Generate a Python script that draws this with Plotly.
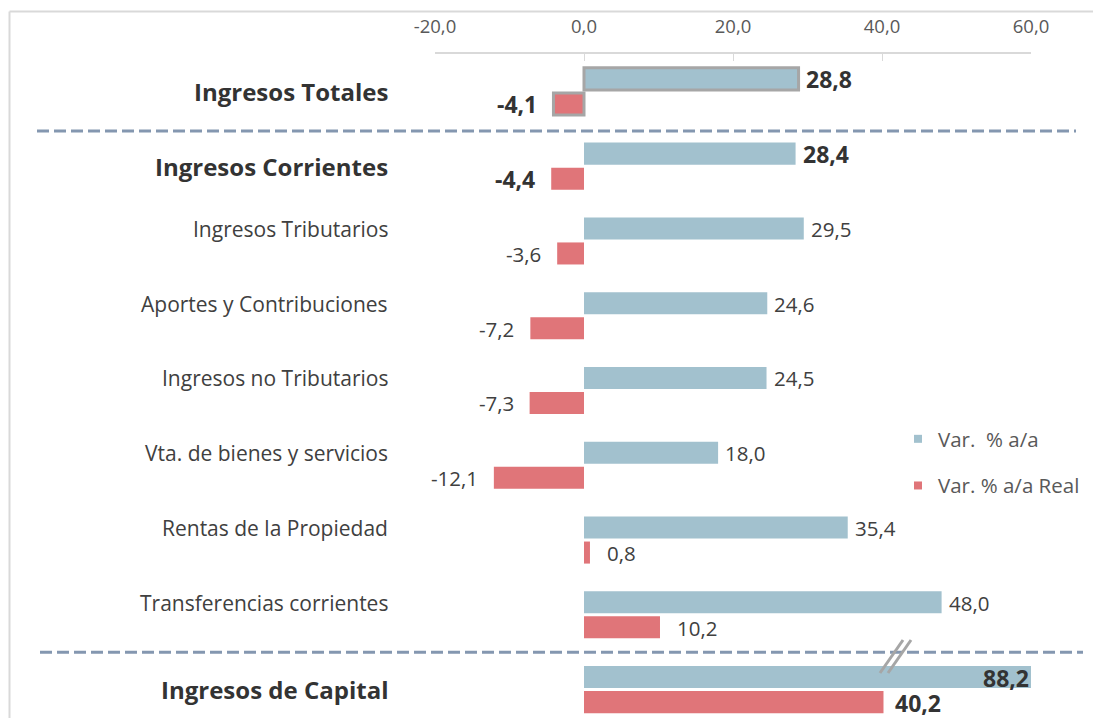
import plotly.graph_objects as go

categories = ["Ingresos Totales", "Ingresos Corrientes", "Ingresos Tributarios",
              "Aportes y Contribuciones", "Ingresos no Tributarios",
              "Vta. de bienes y servicios", "Rentas de la Propiedad",
              "Transferencias corrientes", "Ingresos de Capital"]
var_nominal = [28.8, 28.4, 29.5, 24.6, 24.5, 18.0, 35.4, 48.0, 88.2]
var_real = [-4.1, -4.4, -3.6, -7.2, -7.3, -12.1, 0.8, 10.2, 40.2]
bold_rows = [True, True, False, False, False, False, False, False, True]
highlight = [True, False, False, False, False, False, False, False, False]
tick_vals = [-20, 0, 20, 40, 60]
tick_text = ["-20,0", "0,0", "20,0", "40,0", "60,0"]
series_names = ["Var.&nbsp;&nbsp;% a/a", "Var. % a/a Real"]

BLUE = "#a2c1ce"
RED = "#e07579"
FONT = "Open Sans"
XMIN, XMAX = -20, 60

# page has an 8px body margin; work in reference-page pixels
OFF = 8
PAGE_W, PAGE_H = 1101, 718
W_FIG, H_FIG = PAGE_W - OFF, PAGE_H - OFF
PLOT_L, PLOT_R, PLOT_T, PLOT_B = 435, 1031, 54, 718   # page pixels
L = PLOT_L - OFF
T = PLOT_T - OFF
PW = PLOT_R - PLOT_L
PH = PLOT_B - PLOT_T
R = W_FIG - L - PW
B = H_FIG - T - PH


def px_x(px):
    return (px - PLOT_L) / PW


def px_y(py):
    return 1 - (py - PLOT_T) / PH


def fmt(v):
    return f"{v:.1f}".replace(".", ",")


fig = go.Figure()
fig.add_trace(go.Bar(
    y=categories, x=var_nominal, orientation="h", name=series_names[0],
    marker=dict(color=BLUE,
                line=dict(color="#a6a6a6", width=[3 if h else 0 for h in highlight])),
    showlegend=False, hoverinfo="skip"))
fig.add_trace(go.Bar(
    y=categories, x=var_real, orientation="h", name=series_names[1],
    marker=dict(color=RED,
                line=dict(color="#a6a6a6", width=[3 if h else 0 for h in highlight])),
    showlegend=False, hoverinfo="skip"))
for nm, col, grp in zip(series_names, [BLUE, RED], ["a", "b"]):
    fig.add_trace(go.Scatter(x=[None], y=[None], mode="markers", name=nm,
                             marker=dict(symbol="square", size=8, color=col),
                             legendgroup=grp, showlegend=True))

annotations = []
for cat, vn, vr, b in zip(categories, var_nominal, var_real, bold_rows):
    annotations.append(dict(
        x=px_x(390), xref="paper", y=cat, yref="y", xanchor="right",
        yshift=0 if b else 12,
        text=f"<b>{cat}</b>" if b else cat, showarrow=False,
        font=dict(family=FONT, size=24 if b else 21, color="#333333" if b else "#404040")))
    vfont = dict(family=FONT, size=23 if b else 20.5, color="#333333" if b else "#404040")
    tn = f"<b>{fmt(vn)}</b>" if b else fmt(vn)
    tr = f"<b>{fmt(vr)}</b>" if b else fmt(vr)
    if vn > XMAX:
        annotations.append(dict(x=XMAX, y=cat, xref="x", yref="y", xanchor="right",
                                yshift=12, text=tn, showarrow=False, font=vfont))
    else:
        annotations.append(dict(x=vn, y=cat, xref="x", yref="y", xanchor="left",
                                xshift=5, yshift=12, text=tn, showarrow=False, font=vfont))
    if vr < 0:
        annotations.append(dict(x=vr, y=cat, xref="x", yref="y", xanchor="right",
                                xshift=-14, yshift=-13, text=tr, showarrow=False, font=vfont))
    else:
        annotations.append(dict(x=vr, y=cat, xref="x", yref="y", xanchor="left",
                                xshift=10 if b else 15, yshift=-13, text=tr,
                                showarrow=False, font=vfont))

shapes = []
shapes.append(dict(type="line", xref="paper", yref="paper",
                   x0=px_x(9.5), x1=px_x(1101), y0=px_y(11.5), y1=px_y(11.5),
                   line=dict(color="#d9d9d9", width=2)))
shapes.append(dict(type="line", xref="paper", yref="paper",
                   x0=px_x(9.5), x1=px_x(9.5), y0=px_y(11.5), y1=px_y(718),
                   line=dict(color="#d9d9d9", width=2)))
shapes.append(dict(type="line", xref="paper", yref="y",
                   x0=px_x(37), x1=px_x(1076), y0=0.53, y1=0.53,
                   line=dict(color="#8497b0", width=3, dash="12px,5px")))
shapes.append(dict(type="line", xref="paper", yref="y",
                   x0=px_x(40), x1=px_x(1083), y0=7.5, y1=7.5,
                   line=dict(color="#8497b0", width=3, dash="12px,5px")))
for dx in (0, 8):
    shapes.append(dict(type="line", xref="paper", yref="paper",
                       x0=px_x(880 + dx), x1=px_x(903 + dx), y0=px_y(673), y1=px_y(640),
                       line=dict(color="#a6a6a6", width=3)))

fig.update_layout(
    width=W_FIG, height=H_FIG,
    margin=dict(l=L, r=R, t=T, b=B),
    paper_bgcolor="white", plot_bgcolor="white",
    barmode="group", bargap=0.33, bargroupgap=0.12,
    font=dict(family=FONT, color="#595959"),
    showlegend=True,
    legend=dict(x=px_x(898), y=px_y(419), xanchor="left", yanchor="top",
                font=dict(family=FONT, size=20.5, color="#595959"),
                tracegroupgap=17, traceorder="grouped", bgcolor="rgba(0,0,0,0)",
                itemwidth=30),
    xaxis=dict(range=[XMIN, XMAX], side="top", tickvals=tick_vals, ticktext=tick_text,
               showgrid=False, zeroline=False, showline=True, linecolor="#d9d9d9",
               linewidth=1.5, ticks="inside", ticklen=7, tickcolor="#d9d9d9",
               tickfont=dict(family=FONT, size=18.5, color="#595959"),
               ticklabelstandoff=12),
    yaxis=dict(categoryorder="array", categoryarray=categories,
               range=[8.38, -0.5], showticklabels=False, showgrid=False,
               zeroline=False, showline=False, ticks=""),
    annotations=annotations,
    shapes=shapes,
)

fig.write_html("out.html")
